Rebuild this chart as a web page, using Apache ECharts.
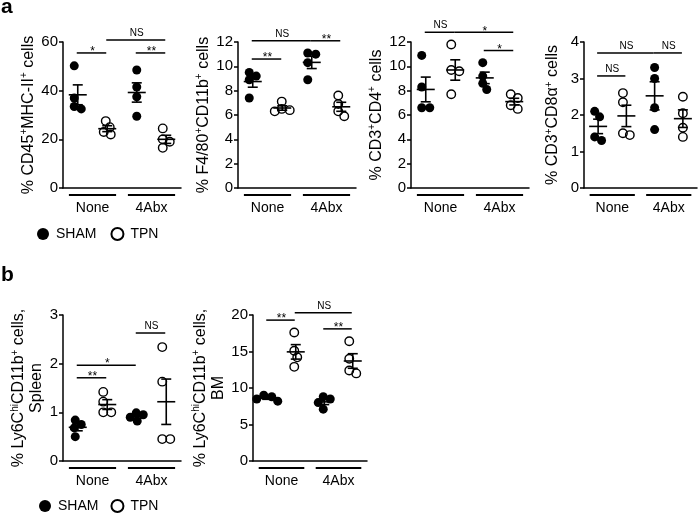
<!DOCTYPE html>
<html><head><meta charset="utf-8">
<script src="https://cdn.jsdelivr.net/npm/echarts@6/dist/echarts.min.js"></script>
<style>html,body{margin:0;padding:0;background:#fff}#c{width:700px;height:513px}</style>
</head><body><div id="c"></div>
<script>
// ---------- data ----------
const groups = ['None', '4Abx'];
const seriesNames = ['SHAM', 'TPN'];
// values per group: [None, 4Abx]
const cd45MhcSham = [[50.2, 37.0, 33.5, 32.5], [48.5, 41.5, 37.5, 29.5]];
const cd45MhcTpn  = [[27.5, 25.0, 23.0, 22.0], [24.5, 20.0, 19.0, 16.5]];
const f480Sham = [[9.5, 9.2, 8.9, 7.4], [11.1, 11.0, 10.3, 8.9]];
const f480Tpn  = [[7.1, 6.5, 6.4, 6.3], [7.6, 6.9, 6.3, 5.9]];
const cd4Sham = [[10.9, 8.3, 6.6, 6.6], [10.3, 9.2, 8.6, 8.1]];
const cd4Tpn  = [[11.8, 9.7, 9.6, 7.7], [7.7, 7.4, 6.8, 6.5]];
const cd8Sham = [[2.1, 1.95, 1.4, 1.3], [3.3, 3.0, 2.2, 1.6]];
const cd8Tpn  = [[2.6, 2.35, 1.5, 1.45], [2.5, 2.05, 1.65, 1.4]];
const spleenSham = [[0.84, 0.75, 0.68, 0.5], [0.99, 0.95, 0.9, 0.82]];
const spleenTpn  = [[1.42, 1.22, 1.0, 1.0], [2.34, 1.63, 0.45, 0.45]];
const bmSham = [[9.0, 8.8, 8.5, 8.2], [8.8, 8.5, 8.0, 7.1]];
const bmTpn  = [[17.6, 15.1, 14.2, 12.9], [16.4, 14.0, 12.4, 12.0]];
// y-axis ticks: [min, max, interval]
const cd45Ticks = [0, 60, 20];
const f480Ticks = [0, 12, 2];
const cd4Ticks = [0, 12, 2];
const cd8Ticks = [0, 4, 1];
const spleenTicks = [0, 3, 1];
const bmTicks = [0, 20, 5];
// significance brackets: [from column, to column, y value, label]
// columns: 0 SHAM None, 1 TPN None, 2 SHAM 4Abx, 3 TPN 4Abx
const cd45Sig = [[0, 1, 55.5, '*'], [1, 3, 60.8, 'NS'], [2, 3, 55.5, '**']];
const f480Sig = [[0, 1, 10.6, '**'], [0, 2, 12.1, 'NS'], [2, 3, 12.1, '**']];
const cd4Sig = [[0, 1, 12.8, 'NS'], [1, 3, 12.8, '*'], [2, 3, 11.3, '*']];
const cd8Sig = [[0, 1, 3.07, 'NS'], [0, 2, 3.7, 'NS'], [2, 3, 3.7, 'NS']];
const spleenSig = [[0, 1, 1.71, '**'], [0, 2, 1.97, '*'], [2, 3, 2.63, 'NS']];
const bmSig = [[0, 1, 19.3, '**'], [1, 3, 20.3, 'NS'], [2, 3, 18.1, '**']];

// ---------- layout ----------
const F = "'Liberation Sans', Arial, Helvetica, sans-serif";
const colX = [0.75, 1.25, 1.75, 2.25];
const panels = [
  {grid: {left: 63, top: 42, width: 118, height: 146}, name: '% CD45{sup|+}MHC-II{sup|+} cells', sham: cd45MhcSham, tpn: cd45MhcTpn, ticks: cd45Ticks, sig: cd45Sig, gap: 23},
  {grid: {left: 238, top: 42, width: 118, height: 146}, name: '% F4/80{sup|+}CD11b{sup|+} cells', sham: f480Sham, tpn: f480Tpn, ticks: f480Ticks, sig: f480Sig, gap: 22},
  {grid: {left: 411, top: 42, width: 118, height: 146}, name: '% CD3{sup|+}CD4{sup|+} cells', sham: cd4Sham, tpn: cd4Tpn, ticks: cd4Ticks, sig: cd4Sig, gap: 22},
  {grid: {left: 584, top: 42, width: 115, height: 146}, name: '% CD3{sup|+}CD8α{sup|+} cells', sham: cd8Sham, tpn: cd8Tpn, ticks: cd8Ticks, sig: cd8Sig, gap: 22},
  {grid: {left: 63, top: 315, width: 118, height: 146}, name: '% Ly6C{sup|hi}CD11b{sup|+} cells,\nSpleen', sham: spleenSham, tpn: spleenTpn, ticks: spleenTicks, sig: spleenSig, gap: 15},
  {grid: {left: 253, top: 315, width: 114, height: 146}, name: '% Ly6C{sup|hi}CD11b{sup|+} cells,\nBM', sham: bmSham, tpn: bmTpn, ticks: bmTicks, sig: bmSig, gap: 22}
];

// greedy beeswarm in pixel space, centred afterwards
function swarm(vals, center, pxX, pxY) {
  const minD = 7.2;
  const sorted = vals.slice().sort((a, b) => b - a);
  const placed = [];
  sorted.forEach(v => {
    const y = v * pxY;
    let dx = 0;
    for (let k = 0; k < 60; k++) {
      const cand = (k % 2 ? 1 : -1) * Math.ceil(k / 2);
      if (placed.every(p => (p.x - cand) * (p.x - cand) + (p.y - y) * (p.y - y) >= minD * minD)) { dx = cand; break; }
    }
    placed.push({x: dx, y, v});
  });
  const xs = placed.map(p => p.x);
  const shift = (Math.max(...xs) + Math.min(...xs)) / 2;
  return placed.map(p => [center + (p.x - shift) / pxX, p.v]);
}
function stats(vals) {
  const n = vals.length, m = vals.reduce((a, b) => a + b, 0) / n;
  const sd = Math.sqrt(vals.reduce((a, b) => a + (b - m) * (b - m), 0) / (n - 1));
  return [m, sd / Math.sqrt(n)];
}

const option = {
  animation: false,
  backgroundColor: '#fff',
  title: [
    {text: 'a', left: 1, top: -3, padding: 0, textStyle: {fontSize: 21, fontWeight: 'bold', color: '#000', fontFamily: F}},
    {text: 'b', left: 1, top: 265, padding: 0, textStyle: {fontSize: 21, fontWeight: 'bold', color: '#000', fontFamily: F}}
  ],
  legend: [
    {data: seriesNames, left: 37, top: 227, padding: 0, icon: 'circle', itemWidth: 12, itemHeight: 12, itemGap: 14,
     textStyle: {fontSize: 14, color: '#000', fontFamily: F, padding: [0, 0, 0, 2]}},
    {data: seriesNames, left: 39, top: 499, padding: 0, icon: 'circle', itemWidth: 12, itemHeight: 12, itemGap: 12,
     textStyle: {fontSize: 14, color: '#000', fontFamily: F, padding: [0, 0, 0, 2]}}
  ],
  grid: [], xAxis: [], yAxis: [], series: []
};

const LS = {color: '#000', width: 1.5};
panels.forEach((p, i) => {
  option.grid.push(p.grid);
  option.xAxis.push({
    gridIndex: i, type: 'value', min: 0.5, max: 2.5, interval: 0.5,
    axisLine: {show: true, lineStyle: LS}, axisTick: {show: false}, splitLine: {show: false},
    axisLabel: {fontSize: 14, color: '#000', fontFamily: F, margin: 13,
      formatter: v => (Math.abs(v - 1) < 1e-9 ? groups[0] : Math.abs(v - 2) < 1e-9 ? groups[1] : '')}
  });
  option.yAxis.push({
    gridIndex: i, type: 'value', min: p.ticks[0], max: p.ticks[1], interval: p.ticks[2],
    axisLine: {show: true, lineStyle: LS}, axisTick: {show: true, length: 4, lineStyle: LS},
    splitLine: {show: false},
    axisLabel: {fontSize: 15, color: '#000', fontFamily: F, margin: 5},
    name: p.name, nameLocation: 'middle', nameRotate: 90, nameGap: p.gap,
    nameTextStyle: {fontSize: 16, color: '#000', fontFamily: F, lineHeight: 18,
      rich: {sup: {fontSize: 10, verticalAlign: 'top', lineHeight: 18, fontFamily: F, color: '#000'}}}
  });
  const pxX = p.grid.width / 2, pxY = p.grid.height / (p.ticks[1] - p.ticks[0]);
  const shamPts = [], tpnPts = [], statData = [];
  groups.forEach((g, gi) => {
    shamPts.push(...swarm(p.sham[gi], colX[gi * 2], pxX, pxY));
    tpnPts.push(...swarm(p.tpn[gi], colX[gi * 2 + 1], pxX, pxY));
    statData.push([colX[gi * 2], ...stats(p.sham[gi])]);
    statData.push([colX[gi * 2 + 1], ...stats(p.tpn[gi])]);
  });
  option.series.push({
    type: 'scatter', name: 'SHAM', xAxisIndex: i, yAxisIndex: i, data: shamPts,
    symbol: 'circle', symbolSize: 9, itemStyle: {color: '#000', opacity: 1}, z: 2
  });
  option.series.push({
    type: 'scatter', name: 'TPN', xAxisIndex: i, yAxisIndex: i, data: tpnPts,
    symbol: 'circle', symbolSize: 8.5, itemStyle: {color: 'rgba(255,255,255,0)', borderColor: '#000', borderWidth: 1.4, opacity: 1}, z: 2
  });
  // mean ± SEM
  option.series.push({
    type: 'custom', xAxisIndex: i, yAxisIndex: i, data: statData, z: 3, silent: true,
    encode: {x: 0, y: 1},
    renderItem: (params, api) => {
      const x = api.value(0), m = api.value(1), s = api.value(2);
      const c = api.coord([x, m]), t = api.coord([x, m + s]), b = api.coord([x, m - s]);
      const st = {stroke: '#000', lineWidth: 1.6};
      return {type: 'group', children: [
        {type: 'line', shape: {x1: c[0] - 9, y1: c[1], x2: c[0] + 9, y2: c[1]}, style: st},
        {type: 'line', shape: {x1: c[0], y1: t[1], x2: c[0], y2: b[1]}, style: st},
        {type: 'line', shape: {x1: c[0] - 5, y1: t[1], x2: c[0] + 5, y2: t[1]}, style: st},
        {type: 'line', shape: {x1: c[0] - 5, y1: b[1], x2: c[0] + 5, y2: b[1]}, style: st}
      ]};
    }
  });
  // significance brackets
  const sigData = p.sig.map(s => [colX[s[0]], colX[s[1]], s[2]]);
  const sigLabels = p.sig.map(s => s[3]);
  option.series.push({
    type: 'custom', xAxisIndex: i, yAxisIndex: i, data: sigData, z: 3, silent: true, clip: false,
    encode: {x: [0, 1], y: 2},
    renderItem: (params, api) => {
      const a = api.coord([api.value(0), api.value(2)]), b = api.coord([api.value(1), api.value(2)]);
      const lab = sigLabels[params.dataIndex];
      const isNS = lab === 'NS';
      return {type: 'group', children: [
        {type: 'line', shape: {x1: a[0] - 1, y1: a[1], x2: b[0] - 1, y2: a[1]}, style: {stroke: '#000', lineWidth: 1.5}},
        {type: 'text', x: (a[0] + b[0]) / 2, y: a[1] + (isNS ? -2 : 5),
         style: {text: lab, fontSize: isNS ? 10 : 12, fontFamily: F, fill: '#000', align: 'center', verticalAlign: 'bottom'}}
      ]};
    }
  });
  // group underlines below the x axis
  option.series.push({
    type: 'custom', xAxisIndex: i, yAxisIndex: i, data: [[1, p.ticks[0]], [2, p.ticks[0]]], z: 3, silent: true, clip: false,
    encode: {x: 0, y: 1},
    renderItem: (params, api) => {
      const x = api.value(0), y0 = api.value(1);
      const a = api.coord([x - 0.4, y0]), b = api.coord([x + 0.4, y0]);
      return {type: 'line', shape: {x1: a[0], y1: a[1] + 7, x2: b[0], y2: a[1] + 7}, style: {stroke: '#000', lineWidth: 2}};
    }
  });
});

const chart = echarts.init(document.getElementById('c'), null, {renderer: 'canvas'});
chart.setOption(option);
</script>
</body></html>
